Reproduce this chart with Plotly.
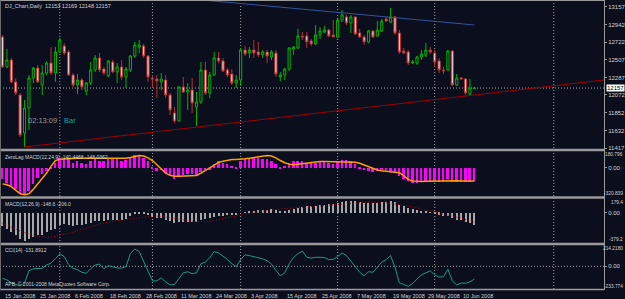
import plotly.graph_objects as go

W, H = 625, 299
BG = '#0b0e1c'
FONT = 'Liberation Sans'
TXT = '#d4d4d4'

# ---------------- data ----------------
bar_idx = list(range(108))
opens = [12787, 12417, 12503, 12232, 12071, 11602, 11911, 12281, 12404, 12195,
         12343, 12466, 12343, 12602, 12676, 12602, 12318, 12195, 12256, 12120,
         12219, 12380, 12528, 12392, 12306, 12478, 12355, 12417, 12293, 12380,
         12552, 12663, 12676, 12552, 12281, 12269, 12232, 12256, 12071, 11849,
         11750, 12170, 12108, 12133, 11923, 11985, 12380, 12096, 12318, 12528,
         12491, 12380, 12330, 12219, 12256, 12626, 12589, 12626, 12602, 12565,
         12602, 12540, 12589, 12293, 12318, 12392, 12639, 12651, 12799, 12799,
         12737, 12700, 12812, 12848, 12873, 12812, 12787, 12997, 13034, 12960,
         13034, 12836, 12787, 12725, 12861, 12799, 12861, 13009, 12972, 13034,
         12836, 12614, 12602, 12466, 12466, 12540, 12565, 12626, 12589, 12491,
         12380, 12380, 12614, 12195, 12281, 12269, 12083, 12153]
highs = [12812, 12639, 12528, 12281, 12096, 12009, 12318, 12417, 12441, 12441,
         12491, 12663, 12663, 12774, 12713, 12626, 12343, 12330, 12281, 12232,
         12478, 12565, 12589, 12417, 12503, 12503, 12466, 12503, 12417, 12565,
         12725, 12750, 12700, 12565, 12318, 12318, 12343, 12318, 12096, 11923,
         12182, 12293, 12219, 12281, 12108, 12478, 12478, 12355, 12602, 12602,
         12528, 12404, 12392, 12318, 12651, 12676, 12663, 12750, 12725, 12626,
         12626, 12626, 12626, 12355, 12404, 12663, 12676, 12886, 12848, 12848,
         12762, 12935, 12910, 12922, 12886, 12997, 13009, 13120, 13058, 13058,
         13046, 12886, 12812, 12873, 12873, 12984, 13009, 13034, 13145, 13046,
         12873, 12651, 12626, 12503, 12552, 12626, 12713, 12663, 12626, 12528,
         12420, 12626, 12626, 12330, 12293, 12281, 12269, 12169]
lows = [12404, 12404, 12219, 12071, 11553, 11430, 11639, 12219, 12219, 12071,
        12318, 12318, 12232, 12589, 12565, 12306, 12170, 12083, 12133, 12071,
        12195, 12355, 12355, 12318, 12293, 12343, 12219, 12256, 12157, 12355,
        12528, 12589, 12528, 12232, 12157, 12034, 12133, 12034, 11824, 11726,
        11738, 12096, 11886, 11849, 11689, 11960, 12071, 12034, 12306, 12466,
        12355, 12293, 12195, 12157, 12182, 12552, 12528, 12528, 12540, 12528,
        12466, 12503, 12293, 12244, 12256, 12367, 12565, 12639, 12750, 12651,
        12676, 12688, 12762, 12836, 12787, 12787, 12774, 12972, 12935, 12836,
        12812, 12774, 12688, 12713, 12774, 12787, 12848, 12972, 12960, 12812,
        12577, 12577, 12441, 12454, 12441, 12503, 12540, 12577, 12417, 12343,
        12330, 12367, 12182, 12182, 12256, 12071, 12071, 12148]
closes = [12417, 12503, 12232, 12096, 11578, 11911, 12281, 12404, 12232, 12343,
          12466, 12343, 12602, 12750, 12589, 12318, 12195, 12256, 12170, 12219,
          12380, 12528, 12380, 12343, 12491, 12355, 12417, 12293, 12392, 12552,
          12688, 12688, 12552, 12293, 12269, 12244, 12269, 12071, 11886, 11750,
          12170, 12108, 12133, 11972, 11985, 12380, 12096, 12318, 12528, 12491,
          12367, 12318, 12219, 12256, 12626, 12577, 12626, 12589, 12565, 12602,
          12552, 12602, 12330, 12318, 12392, 12651, 12663, 12799, 12787, 12725,
          12700, 12812, 12861, 12873, 12799, 12787, 12997, 13058, 12960, 13034,
          12824, 12787, 12725, 12861, 12787, 12873, 12984, 12984, 13034, 12836,
          12602, 12589, 12466, 12478, 12540, 12577, 12626, 12602, 12478, 12380,
          12370, 12614, 12195, 12281, 12269, 12096, 12157, 12157]

zl_hist = [-124, -162, -198, -235, -273, -302, -254, -180, -106, -68,
           -31, 17, 61, 117, 99, 99, 61, 80, 61, 43,
           80, 99, 80, 80, 106, 99, 99, 80, 91, 117,
           144, 136, 117, 80, 17, -31, -20, -50, -79, -124,
           -95, -79, -68, -68, -79, -42, -20, -10, 43, 80,
           61, 43, 25, 17, 80, 99, 106, 117, 117, 106,
           99, 80, 43, 17, 25, 61, 80, 80, 80, 61,
           61, 61, 70, 70, 61, 52, 80, 91, 91, 80,
           43, 17, -20, -31, -42, -31, -20, -20, -31, -42,
           -87, -124, -143, -168, -162, -155, -155, -143, -155, -155,
           -155, -124, -155, -155, -155, -155, -155, -140]
zl_line = [-180, -190, -210, -250, -291, -302, -291, -240, -180, -124,
           -60, 15, 80, 95, 99, 102, 105, 106, 106, 106,
           106, 106, 106, 106, 106, 103, 100, 103, 106, 115,
           128, 136, 130, 110, 80, 30, -20, -60, -85, -95,
           -95, -95, -95, -92, -87, -60, -30, 0, 35, 60,
           72, 85, 91, 91, 92, 100, 106, 115, 125, 130,
           135, 130, 110, 80, 55, 40, 32, 38, 45, 55,
           61, 64, 68, 69, 69, 69, 69, 69, 67, 64,
           61, 50, 30, 8, -10, -25, -35, -40, -42, -42,
           -55, -90, -130, -148, -154, -154, -152, -150, -148, -145,
           -143, -143, -143, -145, -148, -150, -152, -148]

macd_main = [-172, -200, -245, -289, -332, -354, -332, -310, -289, -289,
             -245, -224, -202, -159, -146, -159, -172, -159, -159, -137,
             -128, -107, -107, -107, -94, -94, -85, -85, -72, -42,
             -16, -7, -5, -29, -50, -60, -70, -85, -105, -125,
             -120, -118, -115, -115, -110, -90, -80, -70, -50, -40,
             -35, -30, -30, -28, 0, 10, 20, 28, 35, 40,
             42, 45, 35, 28, 28, 40, 50, 68, 78, 85,
             88, 95, 100, 108, 110, 112, 130, 145, 150, 155,
             150, 140, 132, 130, 128, 128, 135, 140, 150, 135,
             105, 85, 60, 45, 35, 25, 18, 10, -5, -25,
             -40, -40, -70, -85, -95, -120, -135, -149]
macd_signal = [-133, -160, -185, -210, -232, -250, -268, -285, -300, -310,
               -315, -310, -300, -289, -275, -262, -248, -232, -215, -198,
               -180, -160, -140, -128, -118, -110, -100, -92, -84, -75,
               -66, -57, -48, -42, -40, -42, -46, -52, -60, -70,
               -80, -90, -98, -105, -110, -112, -110, -105, -95, -85,
               -72, -58, -46, -36, -26, -15, -5, 5, 15, 25,
               33, 40, 45, 50, 55, 60, 64, 68, 72, 76,
               80, 84, 88, 92, 97, 103, 110, 117, 123, 128,
               132, 135, 137, 138, 137, 135, 132, 128, 123, 117,
               110, 100, 90, 79, 66, 52, 38, 24, 10, -3,
               -16, -28, -40, -51, -64, -78, -95, -116]

cci = [-124, -140, -171, -187, -202, -171, -46, -25, -22, -20,
       14, 32, 79, 128, 100, 17, -22, -35, -61, -72,
       -25, 14, 22, -25, 6, -9, -17, -18, -4, 131,
       178, 152, 48, -56, -150, -150, -119, -160, -192, -187,
       -129, -67, -56, -77, -67, 27, 43, 90, 152, 137,
       105, 71, 27, -4, 69, 118, 110, 100, 90, 77,
       58, 22, -41, -98, -67, 27, 90, 131, 157, 93,
       84, 93, 93, 90, 69, 72, 100, 137, 110, 53,
       -15, -61, -98, -56, -61, -4, 43, 69, 110, -11,
       -171, -187, -207, -176, -129, -88, -67, -48, -88, -111,
       -108, -30, -150, -192, -171, -176, -160, -132]

date_bars = [0, 8, 16, 24, 32, 40, 48, 56, 64, 72, 80, 88, 96, 104]
date_labels = ['15 Jan 2008', '25 Jan 2008', '6 Feb 2008', '18 Feb 2008', '28 Feb 2008',
               '11 Mar 2008', '24 Mar 2008', '3 Apr 2008', '15 Apr 2008', '25 Apr 2008',
               '7 May 2008', '19 May 2008', '29 May 2008', '10 Jun 2008']
month_grid_bars = [13, 34, 54, 76, 98, 125]

price_ticks = [13157, 12942, 12722, 12507, 12287, 12072, 11852, 11632, 11417]
bid_price = 12157

red_trend_bars = [5, 136.4]
red_trend_prices = [11430, 12256]
blue_trend_bars = [30, 107]
blue_trend_prices = [13320, 12935]

zl_max, zl_min = 180.796, -320.839
macd_max, macd_min = 179.4, -379.2
cci_max, cci_min = 214.218, -233.774
price_min, price_max = 11405, 13243

# ---------------- layout helpers ----------------
def fx(p):
    return p / W

def fy(p):
    return 1 - p / H

PLOT_R = 604
xr = [-0.567, -0.567 + PLOT_R / 4.41]
panels = {'y': (0, 149), 'y2': (151.5, 196.5), 'y3': (199, 242.5), 'y4': (245.5, 289)}

fig = go.Figure()

fig.add_trace(go.Candlestick(
    x=bar_idx, open=opens, high=highs, low=lows, close=closes,
    increasing=dict(line=dict(color='#00b400', width=1), fillcolor=BG),
    decreasing=dict(line=dict(color='#b83030', width=1), fillcolor='#f2d2d2'),
    whiskerwidth=0, xaxis='x', yaxis='y', hoverinfo='skip', showlegend=False))

fig.add_trace(go.Scatter(x=red_trend_bars, y=red_trend_prices, mode='lines',
                         line=dict(color='#a00000', width=1), xaxis='x', yaxis='y',
                         showlegend=False, hoverinfo='skip'))
fig.add_trace(go.Scatter(x=blue_trend_bars, y=blue_trend_prices, mode='lines',
                         line=dict(color='#3553a0', width=1), xaxis='x', yaxis='y',
                         showlegend=False, hoverinfo='skip'))

fig.add_trace(go.Bar(x=bar_idx, y=zl_hist, width=0.45, marker=dict(color='#ff00ff', line=dict(width=0)),
                     xaxis='x2', yaxis='y2', showlegend=False, hoverinfo='skip'))
fig.add_trace(go.Scatter(x=bar_idx, y=zl_line, mode='lines', line=dict(color='#ffa000', width=1.5),
                         xaxis='x2', yaxis='y2', showlegend=False, hoverinfo='skip'))

fig.add_trace(go.Bar(x=bar_idx, y=macd_main, width=0.25, marker=dict(color='#a8a8a8', line=dict(width=0)),
                     xaxis='x3', yaxis='y3', showlegend=False, hoverinfo='skip'))
fig.add_trace(go.Scatter(x=bar_idx, y=macd_signal, mode='lines',
                         line=dict(color='#c00000', width=1, dash='1px,2px'),
                         xaxis='x3', yaxis='y3', showlegend=False, hoverinfo='skip'))

fig.add_trace(go.Scatter(x=bar_idx, y=cci, mode='lines', line=dict(color='#1e9a88', width=1),
                         xaxis='x4', yaxis='y4', showlegend=False, hoverinfo='skip'))

xcommon = dict(range=xr, domain=[0, PLOT_R / W], showgrid=False, zeroline=False,
               showticklabels=False, showline=False, ticks='', fixedrange=True)
layout = dict(
    width=W, height=H, margin=dict(l=0, r=0, t=0, b=0),
    paper_bgcolor=BG, plot_bgcolor='rgba(0,0,0,0)', template='none',
    showlegend=False, bargap=0,
    xaxis=dict(**xcommon, anchor='y', rangeslider=dict(visible=False)),
    xaxis2=dict(**xcommon, anchor='y2', matches='x'),
    xaxis3=dict(**xcommon, anchor='y3', matches='x'),
    xaxis4=dict(**xcommon, anchor='y4', matches='x'),
)
ycommon = dict(side='right', showgrid=False, zeroline=False, showline=False,
               ticks='outside', ticklen=2, tickcolor='#9a9a9a', tickwidth=1,
               tickfont=dict(family=FONT, size=6, color=TXT), automargin=False, fixedrange=True)
layout['yaxis'] = dict(**ycommon, anchor='x', domain=[fy(149), fy(0)], range=[price_min, price_max],
                       tickvals=price_ticks, ticktext=[str(v) for v in price_ticks])
layout['yaxis2'] = dict(**ycommon, anchor='x2', domain=[fy(panels['y2'][1]), fy(panels['y2'][0])],
                        range=[zl_min, zl_max], tickvals=[0], ticktext=['0.00'])
layout['yaxis3'] = dict(**ycommon, anchor='x3', domain=[fy(panels['y3'][1]), fy(panels['y3'][0])],
                        range=[macd_min, macd_max], tickvals=[0], ticktext=['0.00'])
layout['yaxis4'] = dict(**ycommon, anchor='x4', domain=[fy(panels['y4'][1]), fy(panels['y4'][0])],
                        range=[cci_min, cci_max], tickvals=[0], ticktext=['0.00'])
fig.update_layout(**layout)

shapes = []
GRID = '#a4a4a4'
for b in month_grid_bars:
    shapes.append(dict(type='line', xref='x', yref='paper', x0=b, x1=b, y0=fy(289), y1=fy(0.5),
                       line=dict(color=GRID, width=1, dash='1px,2px'), layer='below'))
shapes.append(dict(type='line', xref='paper', yref='y', x0=0, x1=PLOT_R / W, y0=bid_price, y1=bid_price,
                   line=dict(color=GRID, width=1, dash='1px,2px'), layer='below'))
shapes.append(dict(type='line', xref='paper', yref='y4', x0=0, x1=PLOT_R / W, y0=0, y1=0,
                   line=dict(color=GRID, width=1, dash='1px,2px'), layer='below'))
# frame and splitters
for yy in (150, 197.5, 244):
    shapes.append(dict(type='rect', xref='paper', yref='paper', x0=0, x1=PLOT_R / W,
                       y0=fy(yy + 1.2), y1=fy(yy - 1.2), fillcolor='#9a9a9a', line=dict(width=0)))
shapes.append(dict(type='line', xref='paper', yref='paper', x0=0, x1=PLOT_R / W, y0=fy(289.5), y1=fy(289.5),
                   line=dict(color='#9a9a9a', width=1.5)))
shapes.append(dict(type='line', xref='paper', yref='paper', x0=0, x1=PLOT_R / W, y0=fy(0.5), y1=fy(0.5),
                   line=dict(color='#9a9a9a', width=1)))
shapes.append(dict(type='line', xref='paper', yref='paper', x0=fx(PLOT_R + 0.5), x1=fx(PLOT_R + 0.5),
                   y0=fy(290), y1=fy(0), line=dict(color='#9a9a9a', width=1)))
shapes.append(dict(type='line', xref='paper', yref='paper', x0=fx(0.5), x1=fx(0.5),
                   y0=fy(290), y1=fy(0), line=dict(color='#6a6a6a', width=1)))
fig.update_layout(shapes=shapes)

ann = []
def text(x, y, s, size=5.5, color=TXT, xanchor='left', yanchor='middle', **kw):
    ann.append(dict(x=fx(x), y=fy(y), xref='paper', yref='paper', text=s, showarrow=False,
                    xanchor=xanchor, yanchor=yanchor, font=dict(family=FONT, size=size, color=color), **kw))

text(3, 6, 'DJ_Chart,Daily  12153 12169 12148 12157', size=5.5)
text(26, 120.5, '02:13:09', size=7.5, color='#9a9a9a')
text(62, 120.5, 'Bar', size=7.5, color='#19a3a3')
text(3, 157, 'ZeroLag MACD(12,24,9) -140.4468 -148.0362', size=5)
text(3, 204, 'MACD(12,26,9) -148.6 -206.0', size=5)
text(3, 250, 'CCI(14) -131.8912', size=5)
text(3, 283.5, 'APB, © 2001-2008 MetaQuotes Software Corp.', size=5)

# subwindow max/min labels (right edge of the window)
for top, bot, vmax, vmin in ((151.5, 196.5, '180.796', '-320.839'),
                             (199, 242.5, '179.4', '-379.2'),
                             (245.5, 289, '214.2180', '-233.774')):
    text(624.5, top + 3, vmax, size=4.8, xanchor='right')
    text(624.5, bot - 3, vmin, size=4.8, xanchor='right')

# bid price box
ann.append(dict(x=fx(605.5), y=bid_price, xref='paper', yref='y', text='12157', showarrow=False,
                xanchor='left', yanchor='middle', bgcolor='#ffffff', borderpad=0,
                font=dict(family=FONT, size=6, color='#000000')))

# date labels
for b, lab in zip(date_bars, date_labels):
    ann.append(dict(x=b, y=fy(291), xref='x4', yref='paper', text=lab, showarrow=False,
                    xanchor='left', yanchor='top', font=dict(family=FONT, size=5.5, color=TXT)))
fig.update_layout(annotations=ann)

fig.write_html('out.html')
